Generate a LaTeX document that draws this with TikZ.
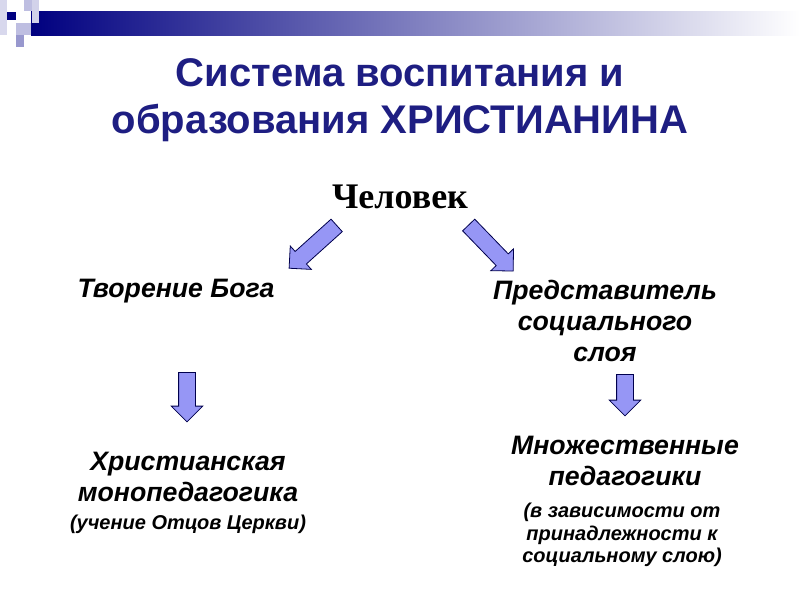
\documentclass[tikz,border=0pt]{standalone}
\usepackage{fontspec}
\setmainfont{Liberation Sans}
\newfontfamily\serifru{Liberation Serif}
\usetikzlibrary{shapes.arrows}
\definecolor{navy}{RGB}{0,0,128}
\definecolor{titlec}{RGB}{30,30,130}
\definecolor{arrowfill}{RGB}{150,150,245}
\definecolor{sqlight}{RGB}{190,190,225}
\tikzset{
  x=0.75pt,y=-0.75pt,
  bigarrow/.style={single arrow, draw=navy!60!black, fill=arrowfill, line width=0.6pt,
    minimum width=23pt, inner xsep=0pt, inner ysep=6pt, single arrow head extend=5.5pt,
    single arrow head indent=0pt, anchor=center},
  body/.style={font=\fontsize{20}{23}\selectfont\bfseries\itshape, align=center, text=black},
}
\begin{document}
\begin{tikzpicture}
\useasboundingbox (0,0) rectangle (800,600);
% decoration
\shade[left color=navy, right color=white] (31,11) rectangle (800,35);
\fill[sqlight] (24,0) rectangle (39,11);
\fill[sqlight!70] (32,0) rectangle (39,23);
\fill[sqlight] (16,23) rectangle (31,35);
\fill[navy] (7,12) rectangle (16,20);
\fill[sqlight!80!navy] (16,35) rectangle (24,47);
\fill[sqlight!60] (0,0) rectangle (7,35);
% title
\node[text=titlec, font=\fontsize{30}{35}\selectfont\bfseries, align=center] (title) at (400,100)
  {Система воспитания и\\образования ХРИСТИАНИНА};
\node[font=\serifru\fontsize{27}{30}\selectfont\bfseries] (man) at (400,197) {Человек};
% arrows
\node[bigarrow, minimum height=48pt, rotate=-138] (a1) at (316,244) {};
\node[bigarrow, minimum height=48pt, rotate=-46] (a2) at (488,245) {};
\node[bigarrow, minimum height=37pt, rotate=-90] (a3) at (187,393) {};
\node[bigarrow, minimum height=31pt, rotate=-90] (a4) at (625,391) {};
% texts
\node[body] (tb) at (176,291) {Творение Бога};
\node[body] (ps) at (605,321) {Представитель\\социального\\слоя};
\node[body] (hm) at (188,477) {Христианская\\монопедагогика};
\node[font=\fontsize{15}{18}\selectfont\bfseries\itshape] (uo) at (188,524) {(учение Отцов Церкви)};
\node[body] (mp) at (625,461) {Множественные\\педагогики};
\node[font=\fontsize{15}{17}\selectfont\bfseries\itshape, align=center] (vz) at (622,535)
  {(в зависимости от\\принадлежности к\\социальному слою)};
\end{tikzpicture}
\end{document}
